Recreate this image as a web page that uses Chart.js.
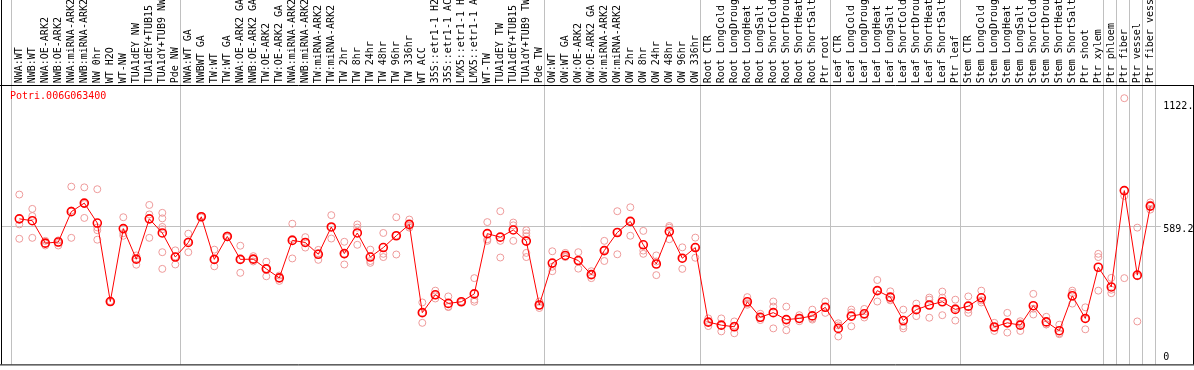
<!DOCTYPE html>
<html>
<head>
<meta charset="utf-8">
<script src="https://cdn.jsdelivr.net/npm/chart.js"></script>
<style>
  html, body { margin: 0; padding: 0; background: #fff; }
  canvas { display: block; }
</style>
</head>
<body>
<canvas id="expr" width="1194" height="370"></canvas>
<script>
const geneId = 'Potri.006G063400';

const categories = [
  'NWA:WT', 'NWB:WT', 'NWA:OE-ARK2', 'NWB:OE-ARK2', 'NWA:miRNA-ARK2', 'NWB:miRNA-ARK2',
  'NW 0hr', 'WT H2O', 'WT-NW', 'TUA1dEY NW', 'TUA1dEY+TUB15 NW', 'TUA1dY+TUB9 NW', 'Pde NW',
  'NWA:WT GA', 'NWBWT GA', 'TW:WT', 'TW:WT GA', 'NWA:OE-ARK2 GA', 'NWB:OE-ARK2 GA',
  'TW:OE-ARK2', 'TW:OE-ARK2 GA', 'NWA:miRNA-ARK2 GA', 'NWB:miRNA-ARK2 GA', 'TW:miRNA-ARK2',
  'TW:miRNA-ARK2 GA', 'TW 2hr', 'TW 8hr', 'TW 24hr', 'TW 48hr', 'TW 96hr', 'TW 336hr',
  'WT ACC', '35S::etr1-1 H2O', '35S::etr1-1 ACC', 'LMX5::etr1-1 H2O', 'LMX5::etr1-1 ACC',
  'WT-TW', 'TUA1dEY TW', 'TUA1dEY+TUB15 TW', 'TUA1dY+TUB9 TW', 'Pde TW',
  'OW:WT', 'OW:WT GA', 'OW:OE-ARK2', 'OW:OE-ARK2 GA', 'OW:miRNA-ARK2', 'OW:miRNA-ARK2 GA',
  'OW 2hr', 'OW 8hr', 'OW 24hr', 'OW 48hr', 'OW 96hr', 'OW 336hr',
  'Root CTR', 'Root LongCold', 'Root LongDrought', 'Root LongHeat', 'Root LongSalt',
  'Root ShortCold', 'Root ShortDrought', 'Root ShortHeat', 'Root ShortSalt', 'Ptr root',
  'Leaf CTR', 'Leaf LongCold', 'Leaf LongDrought', 'Leaf LongHeat', 'Leaf LongSalt',
  'Leaf ShortCold', 'Leaf ShortDrought', 'Leaf ShortHeat', 'Leaf ShortSalt', 'Ptr leaf',
  'Stem CTR', 'Stem LongCold', 'Stem LongDrought', 'Stem LongHeat', 'Stem LongSalt',
  'Stem ShortCold', 'Stem ShortDrought', 'Stem ShortHeat', 'Stem ShortSalt', 'Ptr shoot', 'Ptr xylem',
  'Ptr phloem', 'Ptr fiber', 'Ptr vessel', 'Ptr fiber vessel'
];

// first category of each block (vertical separators)
const groupStarts = [0, 13, 41, 53, 63, 73, 84, 85, 86, 87];

// mean expression (bold line)
const means = [
  620, 612, 515, 520, 651, 688, 602, 263, 578, 446,
  620, 559, 455, 518, 629, 445, 544, 445, 446, 404,
  365, 527, 518, 467, 585, 470, 559, 455, 496, 547,
  596, 215, 292, 255, 262, 296, 556, 541, 572, 524,
  248, 429, 462, 440, 379, 483, 561, 609, 508, 425,
  565, 450, 496, 174, 161, 154, 262, 195, 215, 185,
  190, 201, 238, 147, 200, 210, 310, 282, 181, 228,
  248, 262, 229, 243, 279, 153, 171, 161, 245, 175,
  137, 288, 190, 411, 326, 742, 377, 675
];

// replicates
const rep1 = [
  725, 663, 525, 527, 759, 756, 748, 265, 627, 462,
  680, 646, 484, 556, 632, 487, 548, 504, 459, 435,
  375, 599, 541, 486, 636, 521, 596, 487, 559, 627,
  617, 259, 310, 285, 264, 364, 606, 653, 604, 571,
  263, 480, 473, 476, 394, 525, 653, 670, 568, 462,
  589, 497, 539, 190, 190, 177, 282, 210, 263, 241,
  204, 228, 263, 169, 228, 231, 356, 307, 228, 254,
  280, 306, 271, 285, 310, 171, 214, 178, 296, 197,
  163, 310, 238, 469, 365, 1141, 582, 691
];
const rep2 = [
  596, 632, 513, 516, 656, 684, 583, 263, 558, 446,
  639, 622, 458, 522, 629, 445, 544, 445, 446, 404,
  365, 533, 518, 472, 584, 466, 582, 438, 469, 548,
  589, 215, 290, 241, 262, 271, 532, 525, 592, 558,
  246, 413, 458, 439, 379, 486, 563, 610, 483, 436,
  582, 449, 497, 175, 159, 159, 255, 192, 241, 170,
  188, 190, 237, 160, 216, 205, 311, 268, 157, 228,
  271, 280, 235, 228, 268, 152, 170, 169, 232, 164,
  126, 300, 189, 455, 314, 719, 372, 681
];
const rep3 = [
  534, 538, 505, 505, 538, 624, 571, 261, 547, 422,
  538, 585, 423, 476, 626, 415, 540, 387, 436, 372,
  352, 449, 496, 443, 535, 423, 508, 430, 455, 466,
  582, 171, 276, 239, 260, 262, 525, 453, 525, 545,
  235, 394, 455, 405, 364, 438, 467, 547, 469, 377,
  532, 404, 452, 157, 134, 126, 249, 183, 147, 139,
  178, 185, 214, 112, 156, 194, 263, 271, 147, 200,
  193, 204, 181, 214, 259, 136, 129, 136, 207, 164,
  122, 254, 143, 310, 299, 364, 177, 660
];
// samples with more than three replicates: [category index, value]
const extraReps = [[6, 530], [11, 575], [11, 476], [11, 404], [39, 473], [39, 455]];

const yTicks = [0, 589.2, 1122.4];
const yMin = -8.5;
const yMax = 1196.7;

const FONT = 'DejaVu Sans Mono';
const RED = '#ff0000';
const PINK = '#ee9a9a';
const GRID = '#c0c0c0';

const framePlugin = {
  id: 'frame',
  beforeDatasetsDraw(chart) {
    const { ctx, chartArea: a, scales: { x, y } } = chart;
    const W = chart.width;
    ctx.save();
    ctx.lineWidth = 1;
    ctx.strokeStyle = GRID;
    ctx.beginPath();
    groupStarts.forEach((i) => {
      const px = Math.round(x.getPixelForValue(i) - 8) + 0.5;
      ctx.moveTo(px, 0);
      ctx.lineTo(px, a.bottom);
    });
    const endX = Math.round(x.getPixelForValue(categories.length - 1) + 5) + 0.5;
    ctx.moveTo(endX, 0);
    ctx.lineTo(endX, a.bottom);
    const gy = Math.round(y.getPixelForValue(yTicks[1])) + 0.5;
    ctx.moveTo(1, gy);
    ctx.lineTo(a.right + 4, gy);
    ctx.stroke();

    ctx.strokeStyle = '#000';
    ctx.beginPath();
    ctx.moveTo(0, Math.round(a.top) + 0.5);
    ctx.lineTo(W, Math.round(a.top) + 0.5);
    ctx.moveTo(0, a.bottom + 0.5);
    ctx.lineTo(W, a.bottom + 0.5);
    ctx.moveTo(1.5, 0);
    ctx.lineTo(1.5, a.bottom);
    ctx.moveTo(W - 0.5, a.top);
    ctx.lineTo(W - 0.5, a.bottom);
    ctx.stroke();
    ctx.restore();
  },
  afterDraw(chart) {
    const { ctx, chartArea: a, scales: { y } } = chart;
    ctx.save();
    ctx.font = '10px "' + FONT + '"';
    ctx.textBaseline = 'middle';
    ctx.textAlign = 'left';
    ctx.fillStyle = RED;
    ctx.fillText(geneId, 10, 96);
    ctx.fillStyle = '#000';
    yTicks.forEach((v) => {
      const py = Math.min(y.getPixelForValue(v) + 3.5, a.bottom - 6.7);
      ctx.fillText(String(v), a.right + 6.5, py);
    });
    ctx.restore();
  }
};

const repStyle = {
  showLine: false,
  pointRadius: 3.5,
  pointBorderWidth: 1,
  pointBorderColor: PINK,
  pointBackgroundColor: 'rgba(0,0,0,0)',
  order: 1
};

const chart = new Chart(document.getElementById('expr').getContext('2d'), {
  type: 'line',
  data: {
    labels: categories,
    datasets: [
      {
        label: geneId,
        data: means,
        borderColor: RED,
        borderWidth: 1,
        tension: 0,
        pointRadius: 4,
        pointBorderWidth: 1.6,
        pointBorderColor: RED,
        pointBackgroundColor: 'rgba(0,0,0,0)',
        order: 0
      },
      { ...repStyle, label: 'rep1', data: rep1 },
      { ...repStyle, label: 'rep2', data: rep2 },
      { ...repStyle, label: 'rep3', data: rep3 },
      { ...repStyle, label: 'extra', data: extraReps.map(([i, v]) => ({ x: categories[i], y: v })) }
    ]
  },
  options: {
    responsive: false,
    animation: false,
    layout: { padding: { left: 12.8, right: 0, top: 0, bottom: 1 } },
    plugins: {
      legend: { display: false },
      tooltip: { enabled: false }
    },
    scales: {
      x: {
        position: 'top',
        offset: true,
        grid: { display: false },
        border: { display: false },
        ticks: {
          autoSkip: false,
          minRotation: 90,
          maxRotation: 90,
          padding: -6,
          labelOffset: 12.5,
          color: '#000',
          font: { family: FONT, size: 10 }
        },
        afterFit: (scale) => { scale.height = 85.3; }
      },
      y: {
        position: 'right',
        min: yMin,
        max: yMax,
        grid: { display: false },
        border: { display: false },
        ticks: { display: false },
        afterFit: (scale) => { scale.width = 37.2; }
      }
    }
  },
  plugins: [framePlugin]
});
</script>
</body>
</html>
